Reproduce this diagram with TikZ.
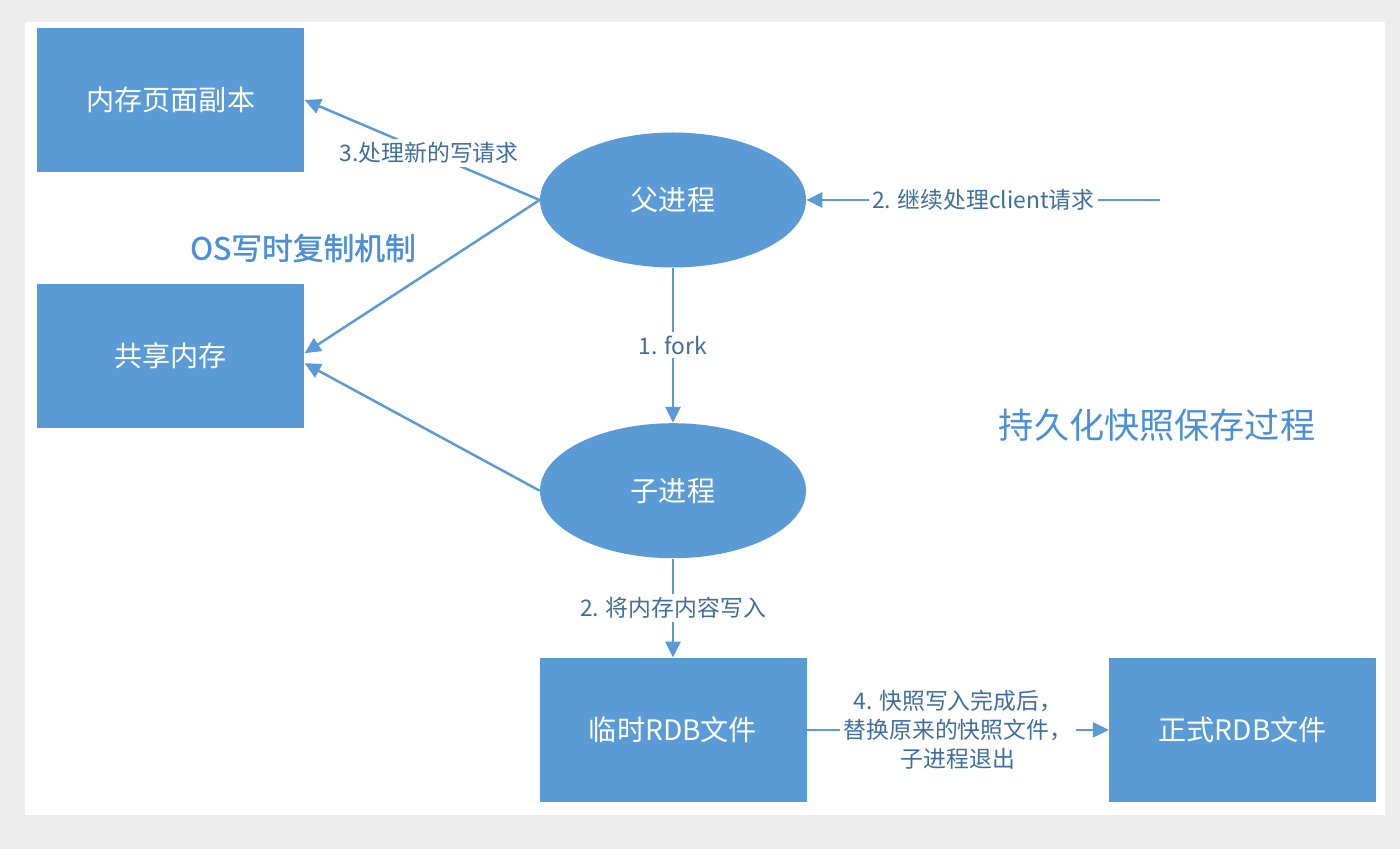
\documentclass[tikz,border=0pt]{standalone}
\usepackage{fontspec}
\setmainfont{Noto Sans CJK SC}
\newfontfamily\semibold[FakeBold=1.2]{Noto Sans CJK SC}
\usepackage{tikz}
\usetikzlibrary{shapes.geometric, arrows.meta, positioning, calc}
\definecolor{boxblue}{HTML}{5B9BD5}
\definecolor{labelblue}{HTML}{3F6E9E}
\definecolor{titleblue}{HTML}{4A8FD8}
\definecolor{pagegray}{HTML}{EDEDED}

\begin{document}
\begin{tikzpicture}[
    >={Triangle[length=3.2mm, width=3mm]},
    store/.style={rectangle, fill=boxblue, minimum width=5.34cm, minimum height=2.88cm, text=white, font=\fontsize{16}{19}\selectfont},
    proc/.style={ellipse, fill=boxblue, minimum width=5.32cm, minimum height=2.7cm, text=white, font=\fontsize{16}{19}\selectfont},
    link/.style={->, line width=1.4pt, draw=boxblue},
    lbl/.style={fill=white, text=labelblue, inner sep=2pt, align=center, font=\fontsize{13}{16.5}\selectfont},
    caption/.style={text=titleblue}
]
    % page and panel
    \fill[pagegray] (0,0) rectangle (28,-16.98);
    \fill[white] (0.5,-0.44) rectangle (27.7,-16.3);
    \useasboundingbox (0,0) rectangle (28,-16.98);

    \node (parent) [proc] at (13.46,-4.0) {父进程};
    \node (child) [proc, below=3.1cm of parent] {子进程};
    \node (tmprdb) [store, below=1.98cm of child] {临时RDB文件};
    \node (rdb) [store, right=6.04cm of tmprdb] {正式RDB文件};
    \node (pagecopy) [store, left=4.7cm of parent, yshift=2cm] {内存页面副本};
    \node (shared) [store, below=2.22cm of pagecopy] {共享内存};
    \coordinate (client) at ($(parent.east)+(7.08,0)$);

    \node (oscow) [caption, font=\fontsize{17.5}{20}\selectfont\semibold] at (6.06,-4.96) {OS写时复制机制};
    \node (snaptitle) [caption, font=\fontsize{20}{24}\selectfont] at (23.14,-8.5) {持久化快照保存过程};

    \draw[link] (parent.west) -- node[lbl, pos=0.47]{3.处理新的写请求} (pagecopy.east);
    \draw[link] (parent.west) -- ([yshift=0.05cm]shared.east);
    \draw[link] (child.west) -- ([yshift=-0.15cm]shared.east);
    \draw[link] (client) -- node[lbl]{2. 继续处理client请求} (parent.east);
    \draw[link] (parent) -- node[lbl]{1. fork} (child);
    \draw[link] (child) -- node[lbl]{2. 将内存内容写入} (tmprdb);
    \draw[link] (tmprdb) -- node[lbl]{4. 快照写入完成后，\\替换原来的快照文件，\\子进程退出} (rdb);
\end{tikzpicture}
\end{document}
